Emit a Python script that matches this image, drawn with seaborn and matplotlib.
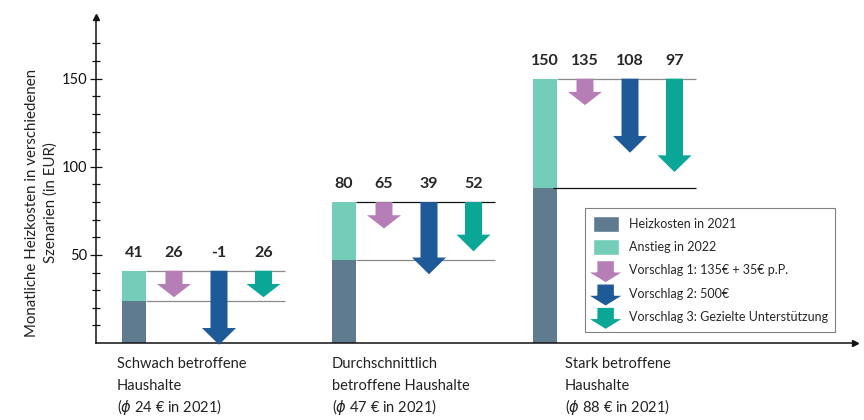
import numpy as np
import pandas as pd
import seaborn as sns
import matplotlib.pyplot as plt
from matplotlib.patches import Patch, FancyArrow
from matplotlib.legend_handler import HandlerPatch

# Daten
gruppen = ["Schwach betroffene\nHaushalte\n($\\phi$ 24 € in 2021)",
           "Durchschnittlich\nbetroffene Haushalte\n($\\phi$ 47 € in 2021)",
           "Stark betroffene\nHaushalte\n($\\phi$ 88 € in 2021)"]
heizkosten_2021 = [24, 47, 88]
gesamt_2022 = [41, 80, 150]
vorschlag_1 = [26, 65, 135]
vorschlag_2 = [-1, 39, 108]
vorschlag_3 = [26, 52, 97]
legende = ["Heizkosten in 2021", "Anstieg in 2022",
           "Vorschlag 1: 135€ + 35€ p.P.", "Vorschlag 2: 500€",
           "Vorschlag 3: Gezielte Unterstützung"]

# Layout (x in Einheiten von 100 px)
gruppe_x = [0.38, 2.48, 4.49]
pfeil_off = [0.40, 0.85, 1.295]
text_x = [0.21, 2.36, 4.69]
bar_w = 0.24

c_dunkel = "#5f7b8f"
c_hell = "#74cdb9"
c_pfeile = ["#b67eb6", "#1d5a97", "#0aa797"]
linien_farben = [("#8a8a8a", "#8a8a8a"), ("#111111", "#8a8a8a"), ("#8a8a8a", "#111111")]

sns.set_theme(style="white")
plt.rcParams['font.family'] = ['Lato', 'DejaVu Sans']

fig = plt.figure(figsize=(8.64, 4.2), dpi=100)
ax = fig.add_axes([96 / 864, 1 - 343 / 420, 759 / 864, 326 / 420])

df = pd.DataFrame({"x": gruppe_x, "gesamt": gesamt_2022, "basis": heizkosten_2021})
w = bar_w / np.diff(gruppe_x).min()
sns.barplot(data=df, x="x", y="gesamt", native_scale=True, width=w, color=c_hell,
            saturation=1, linewidth=0, errorbar=None, ax=ax)
sns.barplot(data=df, x="x", y="basis", native_scale=True, width=w, color=c_dunkel,
            saturation=1, linewidth=0, errorbar=None, ax=ax)

vorschlaege = [vorschlag_1, vorschlag_2, vorschlag_3]
for i, gx in enumerate(gruppe_x):
    oben = gesamt_2022[i]
    # Hilfslinien
    ax.hlines(oben, gx + bar_w / 2, gx + 1.51, color=linien_farben[i][0], lw=0.9, zorder=1)
    ax.hlines(heizkosten_2021[i], gx + bar_w / 2 - (0.04 if i == 2 else 0), gx + 1.51,
              color=linien_farben[i][1], lw=0.9, zorder=1)
    ax.text(gx, oben + 10, str(oben), ha="center", va="center", fontsize=11.5, fontweight="bold")
    for j, werte in enumerate(vorschlaege):
        px = gx + pfeil_off[j]
        laenge = oben - werte[i]
        kopf = min(9.5, 0.5 * laenge)
        ax.add_patch(FancyArrow(px, oben, 0, -laenge, width=0.17, head_width=0.34,
                                head_length=kopf, length_includes_head=True,
                                color=c_pfeile[j], lw=0, clip_on=False, zorder=3))
        ax.text(px, oben + 10, str(werte[i]), ha="center", va="center", fontsize=11.5,
                fontweight="bold")
    # Gruppentext Zeile für Zeile (gleichmäßiger Abstand)
    for k, zeile in enumerate(gruppen[i].split("\n")):
        ax.annotate(zeile, xy=(text_x[i], 0), xytext=(0, -18 - k * 15.8),
                    textcoords="offset points", ha="left", va="baseline",
                    fontsize=10.5, color="#222222", annotation_clip=False)

ax.set_xlim(0, 7.59)
ax.set_ylim(0, 185)
ax.set_xticks([])
ax.set_xlabel("")
ax.set_yticks([50, 100, 150])
ax.set_yticks([v for v in range(10, 180, 10) if v % 50 != 0], minor=True)
ax.tick_params(axis="y", which="major", direction="inout", length=8, width=0.9,
               labelsize=10.5, pad=2, colors="#111111", left=True)
ax.tick_params(axis="y", which="minor", direction="inout", length=6, width=0.9,
               left=True, colors="#111111")
for s in ["top", "right"]:
    ax.spines[s].set_visible(False)
for s in ["left", "bottom"]:
    ax.spines[s].set_color("#111111")
    ax.spines[s].set_linewidth(1.1)
ax.plot(1, 0, ">", color="#111111", ms=5, transform=ax.get_yaxis_transform(), clip_on=False)
ax.plot(0, 1, "^", color="#111111", ms=5, transform=ax.get_xaxis_transform(), clip_on=False)

ax.set_ylabel("Monatliche Heizkosten in verschiedenen\nSzenarien (in EUR)",
              fontsize=10.8, linespacing=1.45, color="#222222")
ax.yaxis.set_label_coords(-0.05, 0.43)


def pfeil_handle(legend, orig_handle, xdescent, ydescent, width, height, fontsize):
    return FancyArrow(width / 2 - xdescent, height * 1.1 - ydescent, 0, -height * 1.4,
                      width=width * 0.68, head_width=width * 1.38, head_length=height * 0.7,
                      length_includes_head=True)


handles = [Patch(facecolor=c_dunkel), Patch(facecolor=c_hell)]
handles += [Patch(facecolor=c) for c in c_pfeile]
hmap = {h: HandlerPatch(patch_func=pfeil_handle) for h in handles[2:]}
leg = ax.legend(handles, legende, handler_map=hmap, loc="upper left",
                bbox_to_anchor=(585 / 864, 1 - 208 / 420), bbox_transform=fig.transFigure,
                fontsize=9, frameon=True, fancybox=False, framealpha=1,
                edgecolor="#808080", borderaxespad=0, borderpad=0.6,
                handlelength=2.1, handleheight=1.6, labelspacing=0.58, handletextpad=0.8)
leg.get_frame().set_linewidth(0.8)

fig.savefig("out.png", dpi=100)
